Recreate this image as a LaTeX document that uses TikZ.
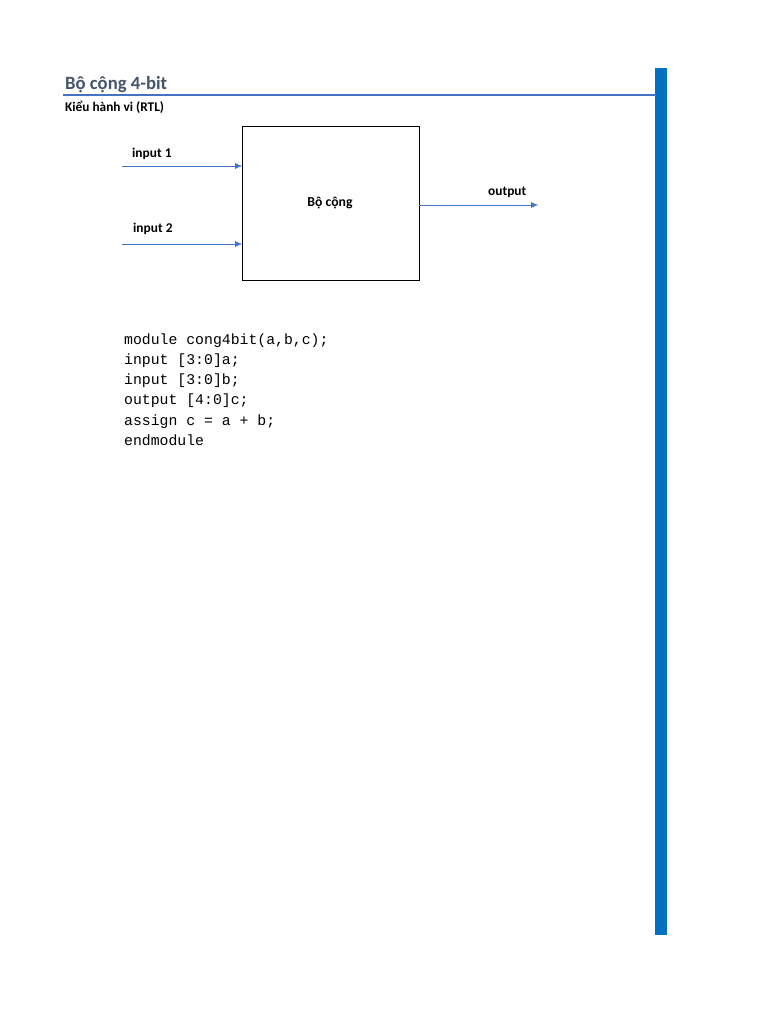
\documentclass[tikz,border=0pt]{standalone}
\usepackage{fontspec}
\setmainfont{Carlito}
\setmonofont{Liberation Mono}
\usetikzlibrary{arrows.meta,positioning}
\definecolor{myblue}{HTML}{4472C4}
\definecolor{mybar}{HTML}{0070C0}
\definecolor{mytitle}{HTML}{44546A}
\begin{document}
\begin{tikzpicture}[x=1pt,y=-1pt,
    sig/.style={myblue, -{Latex[length=7pt,width=6pt]}},
    lbl/.style={font=\bfseries\fontsize{13.4}{15}\selectfont, anchor=base west, inner sep=0pt},
    code/.style={font=\ttfamily\fontsize{14.8}{16}\selectfont, anchor=base west, inner sep=0pt}]
    % page
    \useasboundingbox (0,0) rectangle (768,1024);
    \fill[white] (0,0) rectangle (768,1024);
    \fill[mybar] (655,68) rectangle (667,935);
    \draw[myblue, line width=2.5pt] (63,95) -- (656,95);
    \node[lbl, mytitle, font=\bfseries\fontsize{18.7}{20}\selectfont] (title) at (65,89.5) {Bộ cộng 4-bit};
    \node[lbl, font=\bfseries\fontsize{13.3}{15}\selectfont] (sub) at (65,111.5) {Kiểu hành vi (RTL)};
    % adder block
    \draw[thick] (242,126) rectangle (419,280);
    \node[font=\bfseries\fontsize{13.7}{15}\selectfont] (add) at (330,203) {Bộ cộng};
    \coordinate (in1) at (122,166);
    \coordinate (in1e) at (242,166);
    \coordinate (in2) at (122,244);
    \coordinate (in2e) at (242,244);
    \coordinate (out) at (419,205);
    \coordinate (oute) at (538,205);
    \draw[sig] (in1) -- (in1e);
    \draw[sig] (in2) -- (in2e);
    \draw[sig] (out) -- (oute);
    \node[lbl] (l1) at (132,158) {input 1};
    \node[lbl] (l2) at (133,233) {input 2};
    \node[lbl] (lo) at (488,196) {output};
    % code
    \foreach \t [count=\i from 0] in {{module cong4bit(a,b,c);}, input [3:0]a;, input [3:0]b;, output [4:0]c;, assign c = a + b;, endmodule}
        \node[code] (c\i) at (124,344+20.3*\i) {\t};
\end{tikzpicture}
\end{document}
